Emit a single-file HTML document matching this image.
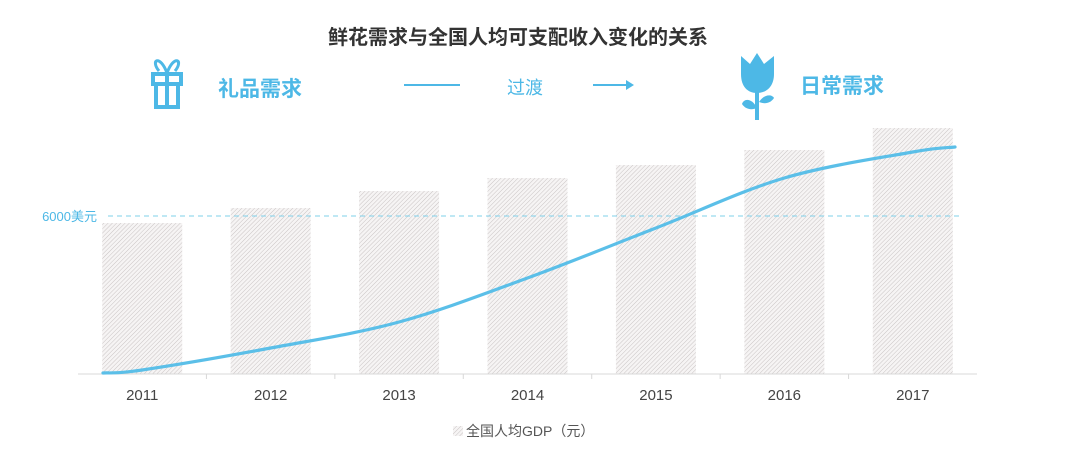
<!DOCTYPE html>
<html><head><meta charset="utf-8"><style>
body{margin:0;width:1080px;height:463px;background:#fff;overflow:hidden;font-family:"Liberation Sans","Noto Sans CJK SC",sans-serif;}
</style></head><body>
<svg id="chart" width="1080" height="463" xmlns="http://www.w3.org/2000/svg">
<defs>
<pattern id="hatch" patternUnits="userSpaceOnUse" width="3" height="3" patternTransform="rotate(45)">
<rect width="3" height="3" fill="#f6f4f4"/><line x1="0" y1="0" x2="0" y2="3" stroke="#c9c4c4" stroke-width="1"/>
</pattern>
</defs>
<text x="518" y="44" text-anchor="middle" font-size="20" font-weight="bold" fill="#333">鲜花需求与全国人均可支配收入变化的关系</text>
<g fill="none" stroke="#4db8e6" stroke-width="4">
<rect x="153" y="74" width="28" height="10"/><rect x="156" y="84" width="22" height="23"/><line x1="167" y1="74" x2="167" y2="107"/>
<path d="M167 73 C160 54 150 60 159 71 M167 73 C174 54 184 60 175 71" stroke-width="3"/>
</g>
<text x="218" y="96" font-size="21" font-weight="bold" fill="#4db8e6">礼品需求</text>
<line x1="404" y1="85" x2="460" y2="85" stroke="#4db8e6" stroke-width="2"/>
<text x="507" y="94" font-size="18" fill="#4db8e6">过渡</text>
<g><line x1="593" y1="85" x2="628" y2="85" stroke="#4db8e6" stroke-width="2"/><path d="M626 80 L634 85 L626 90Z" fill="#4db8e6"/></g>
<g fill="#4db8e6">
<path d="M741 56 L750 64 L757 53 L764 64 L774 56 L774 74 C774 87 766 93 757 93 C748 93 741 87 741 74Z"/>
<rect x="755" y="90" width="4" height="30"/>
<path d="M757 108 C752 98 744 98 742 104 C746 110 752 110 757 108Z"/>
<path d="M759 102 C764 94 772 94 774 98 C770 104 764 104 759 102Z"/>
</g>
<text x="800" y="93" font-size="21" font-weight="bold" fill="#4db8e6">日常需求</text>
<g id="bars"></g>
<line x1="108" y1="216" x2="960" y2="216" stroke="#7fd0ea" stroke-width="1" stroke-dasharray="5,4"/>
<text x="97" y="221" text-anchor="end" font-size="13" fill="#4db8e6">6000美元</text>
<line x1="78" y1="374" x2="977" y2="374" stroke="#d8d8d8"/>
<g id="ticks"></g>
<path id="curve" fill="none" stroke="#5bbfe8" stroke-width="3.2" stroke-linecap="round"/>
<g>
<rect x="453" y="426" width="10" height="10" fill="url(#hatch)"/>
<text x="466" y="436" font-size="14" fill="#555">全国人均GDP（元）</text>
</g>
</svg>
<script>
const categories=["2011","2012","2013","2014","2015","2016","2017"];
const gdpValues=[5734,6304,6949,7443,7937,8506,9342];
const curveValues=[152,987,1975,3646,5544,7443,8430];
const curveStart=38, curveEnd=8620;
const x0=78,x1=977,base=374,scaleK=158/6000;
const band=(x1-x0)/categories.length;
const xc=i=>x0+band*(i+0.5);
const y=v=>base-v*scaleK;
const NS="http://www.w3.org/2000/svg";
const bars=document.getElementById('bars'),ticks=document.getElementById('ticks');
categories.forEach((c,i)=>{
 const r=document.createElementNS(NS,'rect');
 r.setAttribute('x',xc(i)-40);r.setAttribute('width',80);
 r.setAttribute('y',y(gdpValues[i]));r.setAttribute('height',base-y(gdpValues[i]));
 r.setAttribute('fill','url(#hatch)');
 
 
 bars.appendChild(r);
 const t=document.createElementNS(NS,'text');
 t.setAttribute('x',xc(i));t.setAttribute('y',400);t.setAttribute('text-anchor','middle');
 t.setAttribute('font-size','15');t.setAttribute('fill','#444');t.textContent=c;
 
 
 ticks.appendChild(t);
 if(i>0){const l=document.createElementNS(NS,'line');
 l.setAttribute('x1',x0+band*i);l.setAttribute('x2',x0+band*i);l.setAttribute('y1',base);l.setAttribute('y2',base+5);l.setAttribute('stroke','#d8d8d8');
 
 
 ticks.appendChild(l);}
});
const pts=[[103,y(curveStart)]].concat(curveValues.map((v,i)=>[xc(i),y(v)])).concat([[955,y(curveEnd)]]);
let d='M'+pts[0][0]+' '+pts[0][1];
for(let i=0;i<pts.length-1;i++){
 const p0=pts[Math.max(0,i-1)],p1=pts[i],p2=pts[i+1],p3=pts[Math.min(pts.length-1,i+2)];
 const c1=[p1[0]+(p2[0]-p0[0])/6,p1[1]+(p2[1]-p0[1])/6],c2=[p2[0]-(p3[0]-p1[0])/6,p2[1]-(p3[1]-p1[1])/6];
 d+=` C${c1[0]} ${c1[1]} ${c2[0]} ${c2[1]} ${p2[0]} ${p2[1]}`;
}
document.getElementById('curve').setAttribute('d',d);
</script>
</body></html>
